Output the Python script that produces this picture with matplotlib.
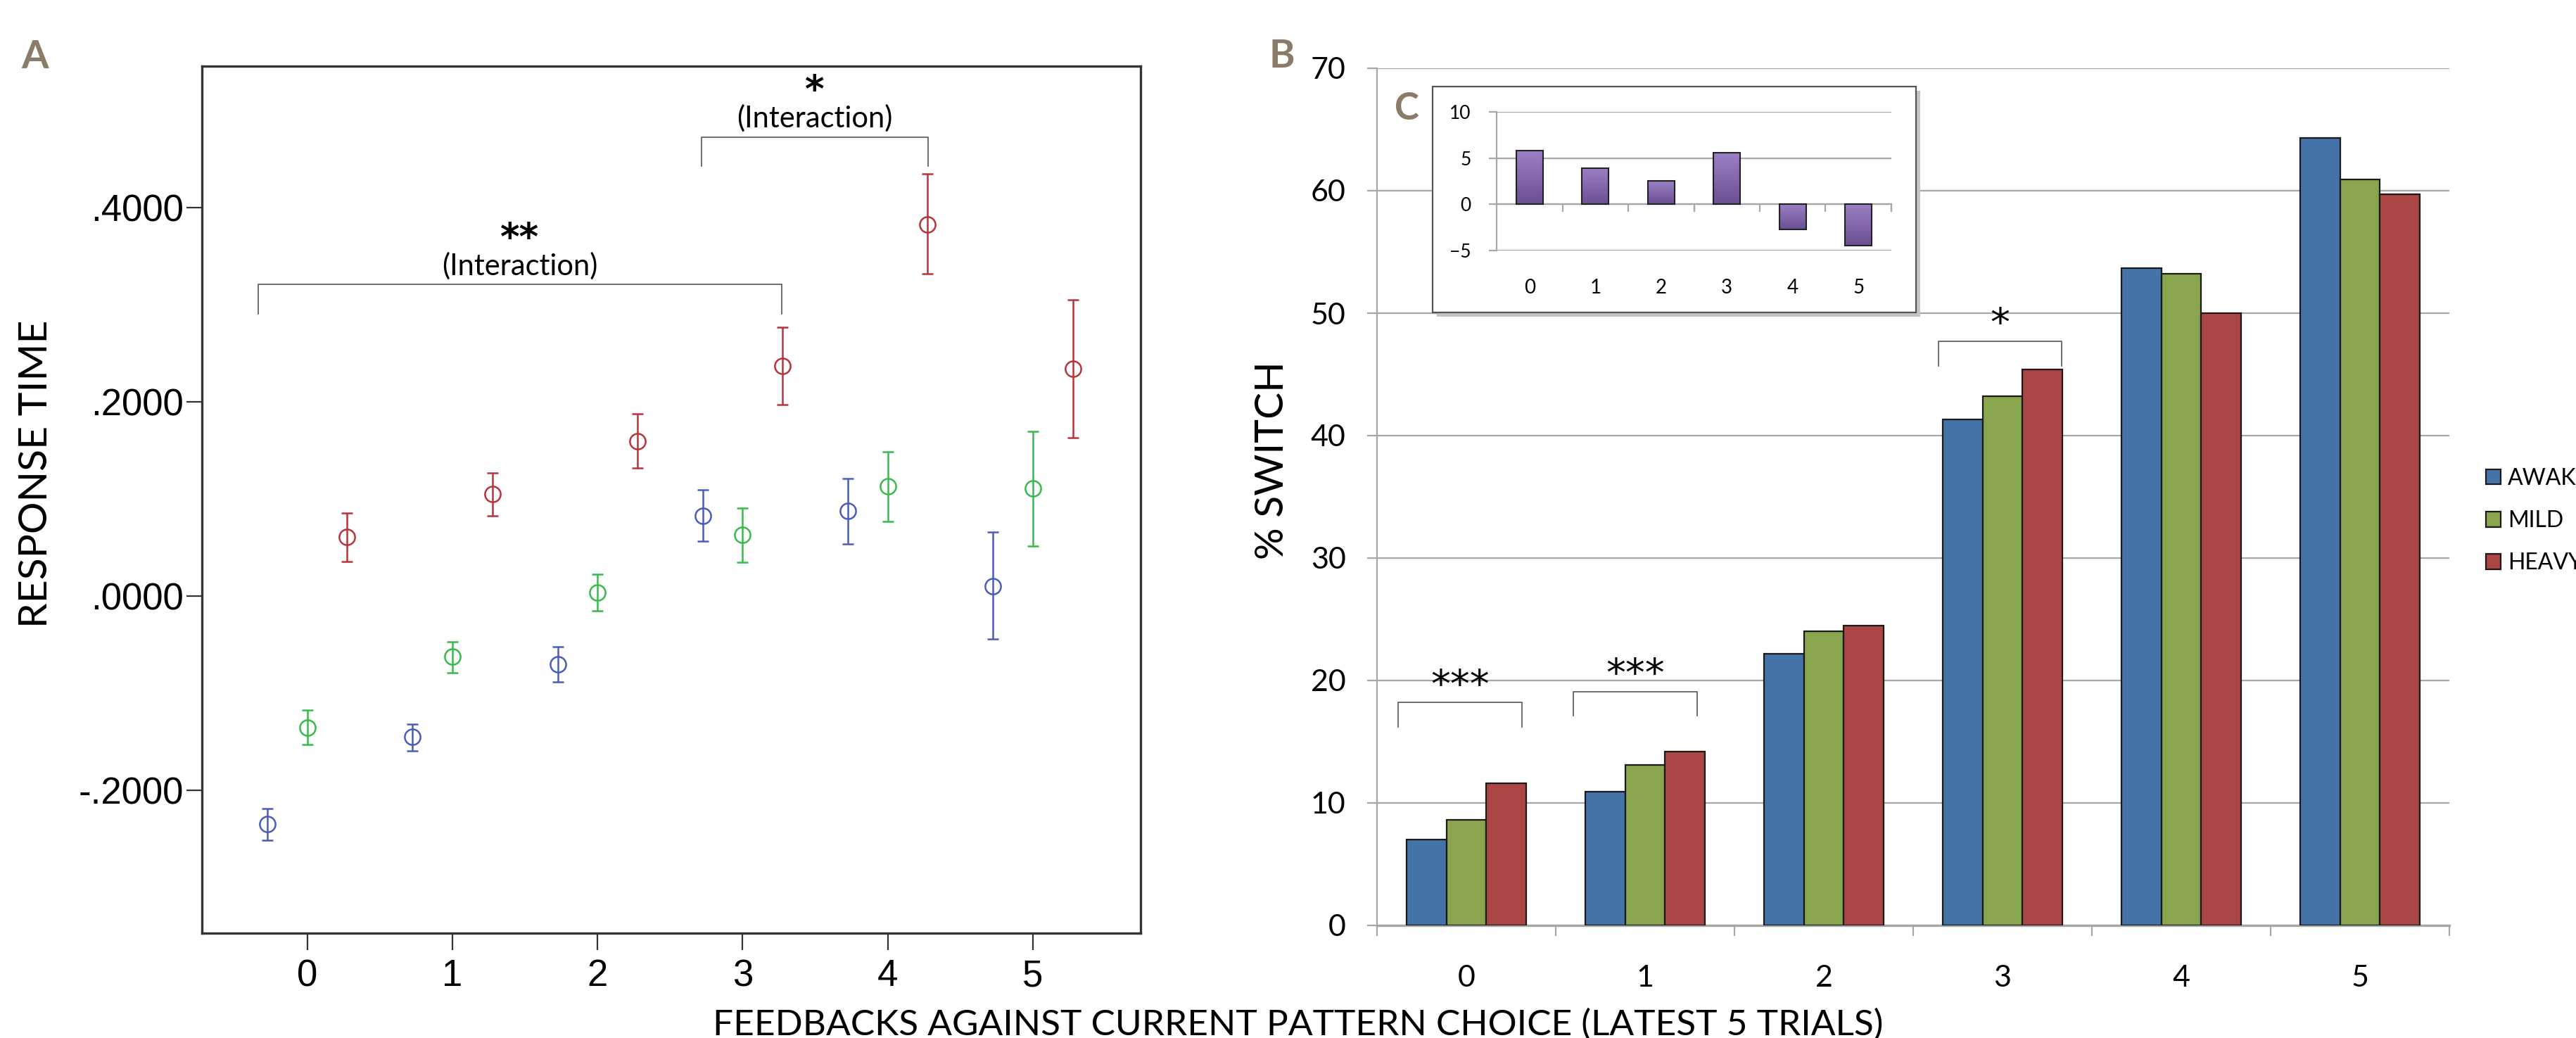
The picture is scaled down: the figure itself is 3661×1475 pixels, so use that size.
import numpy as np
import matplotlib.pyplot as plt
from matplotlib.patches import Patch, Rectangle
from matplotlib.ticker import FuncFormatter
from matplotlib.colors import LinearSegmentedColormap

plt.rcParams['font.family'] = ['Lato', 'DejaVu Sans']

feedbacks = [0, 1, 2, 3, 4, 5]
groups = ['AWAKE', 'MILD', 'HEAVY']

# panel A: response time (mean, lower and upper end of error bar)
awake_rt = [-0.235, -0.145, -0.070, 0.083, 0.088, 0.010]
awake_rt_lo = [-0.251, -0.159, -0.088, 0.057, 0.054, -0.044]
awake_rt_hi = [-0.219, -0.132, -0.052, 0.110, 0.121, 0.066]
mild_rt = [-0.135, -0.062, 0.004, 0.063, 0.113, 0.111]
mild_rt_lo = [-0.153, -0.079, -0.015, 0.035, 0.077, 0.052]
mild_rt_hi = [-0.117, -0.047, 0.023, 0.091, 0.149, 0.170]
heavy_rt = [0.061, 0.105, 0.160, 0.237, 0.383, 0.234]
heavy_rt_lo = [0.036, 0.083, 0.132, 0.197, 0.332, 0.163]
heavy_rt_hi = [0.086, 0.127, 0.188, 0.277, 0.435, 0.305]

# panel B: % switch
awake_sw = [7.0, 10.9, 22.2, 41.3, 53.7, 64.3]
mild_sw = [8.6, 13.1, 24.0, 43.2, 53.2, 60.9]
heavy_sw = [11.6, 14.2, 24.5, 45.4, 50.0, 59.7]

# panel C: inset difference
diff_sw = [5.85, 3.9, 2.5, 5.55, -2.75, -4.5]

# significance brackets: (x from, x to, top, label)
sig_a = [(-0.34, 3.27, 0.321, '**'), (2.715, 4.28, 0.473, '*')]
sig_b = [(-0.38, 0.31, 18.2, '***'), (0.60, 1.29, 19.1, '***'), (2.64, 3.33, 47.7, '*')]

W, H = 3661, 1475
fig = plt.figure(figsize=(W / 100, H / 100), dpi=100)


def fx(px):
    return px / W


def fy(py):
    return 1 - py / H


# ---------------- panel A
ax_a = fig.add_axes([fx(287), fy(1326), fx(1621 - 287), (1326 - 94) / H])
cols_a = ['#4a5cbc', '#38bb4c', '#b8343c']
offs = [-0.275, 0, 0.275]
rt = [(awake_rt, awake_rt_lo, awake_rt_hi), (mild_rt, mild_rt_lo, mild_rt_hi),
      (heavy_rt, heavy_rt_lo, heavy_rt_hi)]
for (m, lo, hi), off, c in zip(rt, offs, cols_a):
    m, lo, hi = np.array(m), np.array(lo), np.array(hi)
    ax_a.errorbar(np.array(feedbacks) + off, m, yerr=[m - lo, hi - m], fmt='o', mfc='none', mec=c,
                  ecolor=c, ms=16, mew=1.8, elinewidth=1.8, capsize=5.5, capthick=1.8)

ax_a.set_xlim(-0.726, 5.742)
ax_a.set_ylim(-0.347, 0.546)
ax_a.set_xticks(feedbacks)
ax_a.set_yticks([-0.2, 0, 0.2, 0.4])
ax_a.yaxis.set_major_formatter(FuncFormatter(lambda v, p: f"{v:.4f}".replace('0.', '.')))
for s in ax_a.spines.values():
    s.set_color('#333333')
    s.set_linewidth(2.4)
ax_a.tick_params(axis='y', length=16, width=1.6, color='#333333', pad=3)
ax_a.tick_params(axis='x', length=17, width=1.6, color='#333333', pad=9)
for lab in ax_a.get_xticklabels() + ax_a.get_yticklabels():
    lab.set_family(['Liberation Sans', 'DejaVu Sans'])
    lab.set_fontsize(38)

for x0, x1, top, lab in sig_a:
    ax_a.plot([x0, x0, x1, x1], [top - 0.03, top, top, top - 0.03], color='#555555', lw=1.2)
    ax_a.text((x0 + x1) / 2, top + 0.019, '(Interaction)', ha='center', va='center', fontsize=30)
    ax_a.text((x0 + x1) / 2, top + 0.047, lab, ha='center', va='center', fontsize=38,
              fontweight='bold', family=['DejaVu Sans'])

fig.text(fx(52), fy(673), 'RESPONSE TIME', rotation=90, ha='center', va='center', fontsize=41)
fig.text(fx(50), fy(81), 'A', ha='center', va='center', fontsize=40, fontweight='bold', color='#8b7b69')

# ---------------- panel B
ax_b = fig.add_axes([fx(1957), fy(1315), fx(3481 - 1957), (1315 - 97) / H])
cols_b = ['#4572a7', '#89a54e', '#aa4643']
bw = 0.224
x = np.array(feedbacks)
for j, (vals, c) in enumerate(zip([awake_sw, mild_sw, heavy_sw], cols_b)):
    ax_b.bar(x + (j - 1) * bw, vals, width=bw, color=c, edgecolor='#1a1a1a', lw=1.6, zorder=3, label=groups[j])

ax_b.set_xlim(-0.5, 5.5)
ax_b.set_ylim(0, 70)
ax_b.set_yticks(range(0, 71, 10))
ax_b.set_xticks(feedbacks)
ax_b.set_xticks(np.r_[x - 0.5, x[-1] + 0.5], minor=True)
ax_b.yaxis.grid(True, color='#a6a6a6', lw=1.6, zorder=0)
ax_b.set_axisbelow(True)
for side in ['top', 'right']:
    ax_b.spines[side].set_visible(False)
ax_b.spines['left'].set_color('#a6a6a6')
ax_b.spines['left'].set_linewidth(1.6)
ax_b.spines['bottom'].set_color('#a6a6a6')
ax_b.spines['bottom'].set_linewidth(2.4)
ax_b.tick_params(axis='y', length=10, width=1.6, color='#a6a6a6', pad=22, labelsize=31)
ax_b.tick_params(axis='x', which='major', length=0, pad=40, labelsize=31)
ax_b.tick_params(axis='x', which='minor', length=11, width=1.6, color='#a6a6a6')

for x0, x1, top, lab in sig_b:
    ax_b.plot([x0, x0, x1, x1], [top - 2.0, top, top, top - 2.0], color='#555555', lw=1.2, zorder=4)
    ax_b.text((x0 + x1) / 2, top + 1.3, lab, ha='center', va='center', fontsize=40,
              family=['DejaVu Sans'])

handles = [Patch(facecolor=c, edgecolor='#1a1a1a', lw=1.6, label=g) for c, g in zip(cols_b, groups)]
ax_b.legend(handles=handles, loc='center left', bbox_to_anchor=(fx(3533), fy(740)),
            bbox_transform=fig.transFigure, frameon=False, fontsize=23, handlelength=0.66,
            handleheight=0.66, handletextpad=0.3, labelspacing=0.95, borderpad=0, borderaxespad=0)

fig.text(fx(1808), fy(654), '% SWITCH', rotation=90, ha='center', va='center', fontsize=41)
fig.text(fx(1822), fy(80), 'B', ha='center', va='center', fontsize=40, fontweight='bold', color='#8b7b69')

# ---------------- inset C
fig.add_artist(Rectangle((fx(2042), fy(450)), fx(687), 321 / H, transform=fig.transFigure,
                         fc='#c4c4c4', ec='none', zorder=0.9))
fig.add_artist(Rectangle((fx(2036), fy(444)), fx(687), 321 / H, transform=fig.transFigure,
                         fc='white', ec='#555555', lw=1.6, zorder=1))

ax_c = fig.add_axes([fx(2127), fy(356), fx(2688 - 2127), (356 - 159) / H], zorder=2)
purple = LinearSegmentedColormap.from_list('purp', ['#6a5092', '#9b80c6'])
bars = ax_c.bar(feedbacks, diff_sw, width=0.41, color='none', edgecolor='#222222', lw=1.5, zorder=3)
grad = np.linspace(0, 1, 100).reshape(-1, 1)
for b in bars:
    bx, by = b.get_xy()
    bh = b.get_height()
    im = ax_c.imshow(grad, extent=[bx, bx + b.get_width(), min(by, by + bh), max(by, by + bh)],
                     cmap=purple, aspect='auto', origin='lower', zorder=2)
    im.set_clip_path(b)
ax_c.set_xlim(-0.5, 5.5)
ax_c.set_ylim(-5, 10)
ax_c.set_yticks([-5, 0, 5, 10])
ax_c.set_xticks(feedbacks)
ax_c.yaxis.grid(True, color='#a6a6a6', lw=1.6, zorder=0)
ax_c.set_axisbelow(True)
for side in ['top', 'right', 'bottom']:
    ax_c.spines[side].set_visible(False)
ax_c.spines['left'].set_color('#a6a6a6')
ax_c.spines['left'].set_linewidth(1.6)
ax_c.tick_params(axis='y', length=8, width=1.6, color='#a6a6a6', pad=18, labelsize=19)
ax_c.tick_params(axis='x', length=0, pad=29, labelsize=20)
zero = ax_c.secondary_xaxis(1 / 3)
zero.set_xticks(x + 0.5)
zero.tick_params(length=8, width=1.6, color='#a6a6a6', labelbottom=False)
zero.spines['bottom'].set_color('#a6a6a6')
zero.spines['bottom'].set_linewidth(1.6)

fig.text(fx(1999), fy(154), 'C', ha='center', va='center', fontsize=38, fontweight='bold',
         color='#8b7b69', zorder=3)

fig.text(fx(1845), 0.003, 'FEEDBACKS AGAINST CURRENT PATTERN CHOICE (LATEST 5 TRIALS)',
         ha='center', va='baseline', fontsize=37)

fig.savefig('out.png', dpi=100)
